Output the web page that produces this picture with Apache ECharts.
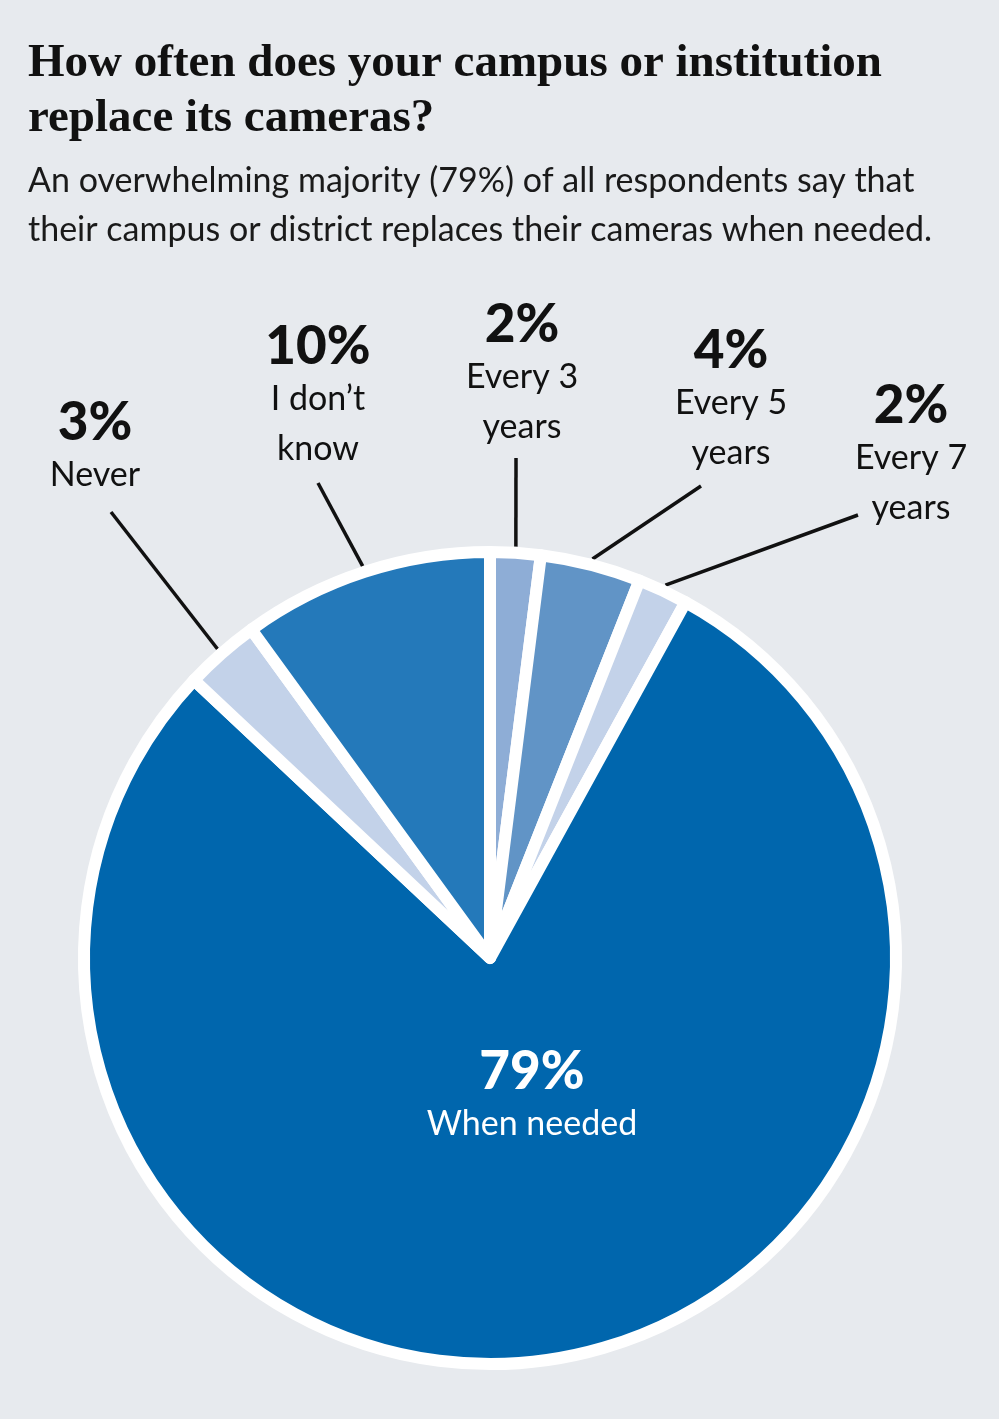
<!DOCTYPE html>
<html>
<head>
<meta charset="utf-8">
<title>Camera replacement</title>
<script src="https://cdn.jsdelivr.net/npm/echarts@6/dist/echarts.min.js"></script>
<style>
  html, body { margin: 0; padding: 0; background: #e7eaee; }
  #chart { width: 999px; height: 1419px; }
</style>
</head>
<body>
<div id="chart"></div>
<script>
// survey answers, clockwise from 12 o'clock
var categories = ['Every 3 years', 'Every 5 years', 'Every 7 years', 'When needed', 'Never', 'I don’t know'];
var shares = [2, 4, 2, 79, 3, 10];
var labelNames = ['Every 3\nyears', 'Every 5\nyears', 'Every 7\nyears', 'When needed', 'Never', 'I don’t\nknow'];

var titleText = 'How often does your campus or institution\nreplace its cameras?';
var subText = 'An overwhelming majority (79%) of all respondents say that\ntheir campus or district replaces their cameras when needed.';

var sliceColors = ['#8eadd6', '#6194c6', '#c3d2e9', '#0066ad', '#c3d2e9', '#2479ba'];

// pie geometry
var CX = 490, CY = 958, R = 406, RING = 412;

// label anchor (centre x, bottom y) and leader end, as offsets from the pie centre
var labelSpots = {
    'Every 3 years': { label: [32, -506], line: [26, -500] },
    'Every 5 years': { label: [241, -480], line: [211, -472] },
    'Every 7 years': { label: [421, -425], line: [368, -443] },
    'When needed':   { label: [42, 139] },
    'Never':         { label: [-395, -458], line: [-379, -446] },
    'I don’t know':  { label: [-172, -484], line: [-172, -475] }
};

var total = shares.reduce(function (a, b) { return a + b; }, 0);

// mid angle of each slice, in radians clockwise from the top
var midAngle = function (idx) {
    var before = 0;
    for (var i = 0; i < idx; i++) before += shares[i];
    return (before + shares[idx] / 2) / total * Math.PI * 2;
};

var pieData = categories.map(function (name, i) {
    var item = {
        name: name,
        value: shares[i],
        itemStyle: { color: sliceColors[i] }
    };
    if (name === 'When needed') {
        item.label = { position: 'inside' };
        item.labelLine = { show: false };
    }
    return item;
});

var chart = echarts.init(document.getElementById('chart'));

chart.setOption({
    backgroundColor: '#e7eaee',
    animation: false,
    title: [{
        text: titleText,
        left: 28,
        top: 36,
        padding: 0,
        textStyle: {
            fontFamily: 'Liberation Serif',
            fontWeight: 'bold',
            fontSize: 47,
            lineHeight: 55,
            color: '#111'
        }
    }, {
        text: subText,
        left: 28,
        top: 157,
        padding: 0,
        textStyle: {
            fontFamily: 'Lato',
            fontWeight: 'normal',
            fontSize: 34,
            lineHeight: 49,
            color: '#1a1a1a'
        }
    }],
    series: [{
        type: 'pie',
        center: [CX, CY],
        radius: R,
        startAngle: 90,
        clockwise: true,
        avoidLabelOverlap: false,
        silent: true,
        data: pieData,
        itemStyle: {
            borderColor: '#ffffff',
            borderWidth: 12
        },
        label: {
            show: true,
            position: 'outside',
            formatter: function (p) {
                var inside = p.name === 'When needed';
                var lines = labelNames[p.dataIndex].split('\n').map(function (s) {
                    return '{' + (inside ? 'nw' : 'n') + '|' + s + '}';
                });
                return '{' + (inside ? 'pw' : 'p') + '|' + p.value + '%}\n' + lines.join('\n');
            },
            rich: {
                p:  { fontFamily: 'Lato', fontWeight: 900, fontSize: 53, lineHeight: 54, color: '#111', align: 'center' },
                n:  { fontFamily: 'Lato', fontSize: 34, lineHeight: 50, color: '#111', align: 'center' },
                pw: { fontFamily: 'Lato', fontWeight: 900, fontSize: 53, lineHeight: 54, color: '#fff', align: 'center' },
                nw: { fontFamily: 'Lato', fontSize: 34, lineHeight: 50, color: '#fff', align: 'center' }
            }
        },
        labelLine: {
            show: true,
            length: 40,
            length2: 0,
            lineStyle: { color: '#111', width: 3.5 }
        },
        labelLayout: function (params) {
            var name = categories[params.dataIndex];
            var spot = labelSpots[name];
            if (!spot) return {};
            if (!spot.line) {
                return {
                    x: CX + spot.label[0],
                    y: CY + spot.label[1],
                    align: 'center',
                    verticalAlign: 'middle'
                };
            }
            var a = midAngle(params.dataIndex);
            var start = [CX + RING * Math.sin(a), CY - RING * Math.cos(a)];
            return {
                x: CX + spot.label[0],
                y: CY + spot.label[1],
                align: 'center',
                verticalAlign: 'bottom',
                labelLinePoints: [start, [CX + spot.line[0], CY + spot.line[1]]]
            };
        },
        emphasis: { disabled: true }
    }]
});
</script>
</body>
</html>
